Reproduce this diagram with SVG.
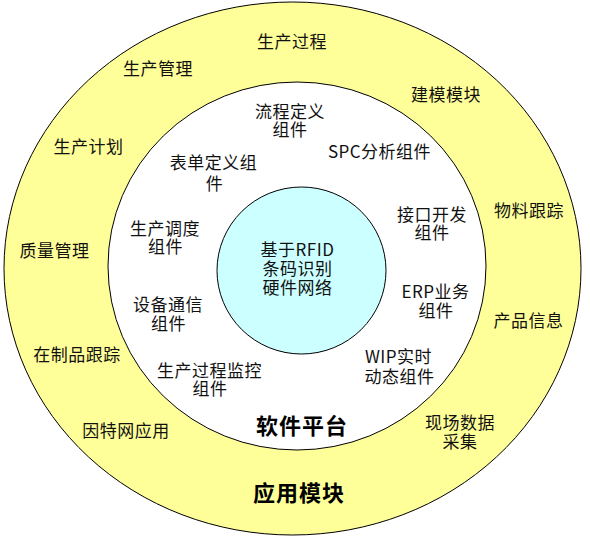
<svg xmlns="http://www.w3.org/2000/svg" width="590" height="540" viewBox="0 0 590 540">
  <style>
    .ring { stroke: #000; stroke-width: 1; }
    .outer { fill: #FFFF99; }
    .inner { fill: #FFFFFF; }
    .core { fill: #CCFFFF; }
    text { font-family: "Noto Sans CJK SC", "Noto Sans", sans-serif; font-size: 17px; letter-spacing: 0.5px; fill: #111; text-anchor: middle; dominant-baseline: central; }
    .title { font-size: 22px; font-weight: bold; letter-spacing: 1px; fill: #000; }
  </style>
  <rect width="590" height="540" fill="#FFFFFF"/>
  <g id="application-modules">
    <ellipse class="ring outer" cx="292.5" cy="268.5" rx="288.5" ry="266.5"/>
    <text x="292" y="40">生产过程</text>
    <text x="158" y="67">生产管理</text>
    <text x="446" y="93">建模模块</text>
    <text x="88.5" y="145.5">生产计划</text>
    <text x="529" y="209.5">物料跟踪</text>
    <text x="54.5" y="249.5">质量管理</text>
    <text x="528.5" y="319.5">产品信息</text>
    <text x="77" y="353.5">在制品跟踪</text>
    <text x="126" y="429.5">因特网应用</text>
    <text x="460"><tspan x="460" y="420.5">现场数据</tspan><tspan x="460" y="439.5">采集</tspan></text>
    <text class="title" x="299" y="491">应用模块</text>
  </g>
  <g id="software-platform">
    <ellipse class="ring inner" cx="297" cy="266" rx="189" ry="184"/>
    <text><tspan x="290" y="109.5">流程定义</tspan><tspan x="290" y="128">组件</tspan></text>
    <text><tspan x="213.5" y="160.5">表单定义组</tspan><tspan x="214.5" y="181.5">件</tspan></text>
    <text x="379.5" y="150.5">SPC分析组件</text>
    <text><tspan x="432" y="212.5">接口开发</tspan><tspan x="432" y="230.5">组件</tspan></text>
    <text><tspan x="165" y="226.5">生产调度</tspan><tspan x="165.5" y="245">组件</tspan></text>
    <text><tspan x="168" y="302.5">设备通信</tspan><tspan x="168.5" y="321.5">组件</tspan></text>
    <text><tspan x="435.5" y="290">ERP业务</tspan><tspan x="436" y="309">组件</tspan></text>
    <text><tspan x="398.5" y="355">WIP实时</tspan><tspan x="399.5" y="374.5">动态组件</tspan></text>
    <text><tspan x="209.5" y="369">生产过程监控</tspan><tspan x="210" y="386.5">组件</tspan></text>
    <text class="title" x="302" y="424">软件平台</text>
  </g>
  <g id="rfid-hardware-network">
    <ellipse class="ring core" cx="301.5" cy="270.5" rx="84.5" ry="83.5"/>
    <text><tspan x="297.5" y="247.5">基于RFID</tspan><tspan x="297.5" y="266.5">条码识别</tspan><tspan x="297.5" y="286">硬件网络</tspan></text>
  </g>
</svg>
